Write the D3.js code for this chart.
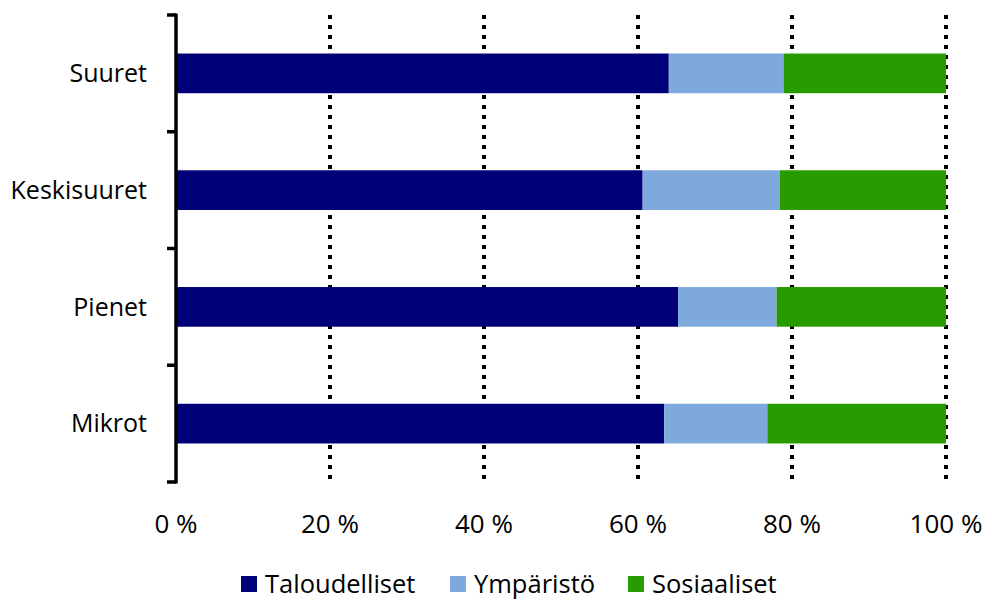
<!DOCTYPE html>
<html>
<head>
<meta charset="utf-8">
<script src="https://cdn.jsdelivr.net/npm/d3@7"></script>
<style>
  html, body { margin: 0; padding: 0; background: #fff; }
  svg text { font-family: "Open Sans", sans-serif; fill: #000; }
</style>
</head>
<body>
<svg id="chart" width="989" height="599"></svg>
<script>
// Company size classes, top to bottom
const categories = ["Suuret", "Keskisuuret", "Pienet", "Mikrot"];
// Share of each theme (%), per size class
const series = ["Taloudelliset", "Ympäristö", "Sosiaaliset"];
const taloudelliset = [64.0, 60.6, 65.2, 63.4];
const ymparisto     = [14.9, 17.8, 12.8, 13.4];
const sosiaaliset   = [21.1, 21.6, 22.0, 23.2];
const tickValues = [0, 20, 40, 60, 80, 100];
const tickLabels = ["0 %", "20 %", "40 %", "60 %", "80 %", "100 %"];
const colors = ["#000078", "#7ea9dc", "#289b00"];

const rows = categories.map((c, i) => ({
  category: c,
  "Taloudelliset": taloudelliset[i],
  "Ympäristö": ymparisto[i],
  "Sosiaaliset": sosiaaliset[i]
}));

const svg = d3.select("#chart");
const plot = { left: 176, right: 946, top: 15, bottom: 482 };

const x = d3.scaleLinear().domain([0, 100]).range([plot.left, plot.right]);
const y = d3.scaleBand().domain(categories).range([plot.top, plot.bottom]).paddingInner(0).paddingOuter(0);
const color = d3.scaleOrdinal().domain(series).range(colors);

// Dotted vertical gridlines
svg.append("g").selectAll("line")
  .data(tickValues.slice(1))
  .join("line")
  .attr("x1", d => x(d)).attr("x2", d => x(d))
  .attr("y1", plot.top).attr("y2", plot.bottom)
  .attr("stroke", "#000").attr("stroke-width", 4)
  .attr("stroke-dasharray", "4,6");

// Stacked bars
const stacked = d3.stack().keys(series)(rows);
const barH = y.bandwidth() * 0.34;
svg.append("g").selectAll("g")
  .data(stacked)
  .join("g")
  .attr("fill", d => color(d.key))
  .selectAll("rect")
  .data(d => d)
  .join("rect")
  .attr("x", d => x(d[0]))
  .attr("width", d => x(d[1]) - x(d[0]))
  .attr("y", d => y(d.data.category) + (y.bandwidth() - barH) / 2)
  .attr("height", barH);

// Category axis with ticks at band boundaries
const axisG = svg.append("g");
axisG.append("line")
  .attr("x1", plot.left).attr("x2", plot.left)
  .attr("y1", plot.top - 1.5).attr("y2", plot.bottom + 1.5)
  .attr("stroke", "#000").attr("stroke-width", 3.5);
const bounds = categories.map(c => y(c)).concat([plot.bottom]);
axisG.selectAll("line.tick")
  .data(bounds)
  .join("line")
  .attr("class", "tick")
  .attr("x1", plot.left - 9).attr("x2", plot.left)
  .attr("y1", d => d).attr("y2", d => d)
  .attr("stroke", "#000").attr("stroke-width", 3.5);
axisG.selectAll("text")
  .data(categories)
  .join("text")
  .attr("x", 147)
  .attr("y", d => y(d) + y.bandwidth() / 2)
  .attr("dy", "0.35em")
  .attr("text-anchor", "end")
  .attr("font-size", 25)
  .text(d => d);

// Percentage labels
svg.append("g").selectAll("text")
  .data(tickValues)
  .join("text")
  .attr("x", d => x(d))
  .attr("y", 533)
  .attr("text-anchor", "middle")
  .attr("font-size", 26)
  .text((d, i) => tickLabels[i]);

// Legend
const legendX = [241, 450, 628];
const legend = svg.append("g").selectAll("g")
  .data(series)
  .join("g")
  .attr("transform", (d, i) => `translate(${legendX[i]},576)`);
legend.append("rect")
  .attr("width", 16).attr("height", 16)
  .attr("fill", d => color(d));
legend.append("text")
  .attr("x", 24).attr("y", 16.5)
  .attr("font-size", 25.5)
  .text(d => d);
</script>
</body>
</html>
